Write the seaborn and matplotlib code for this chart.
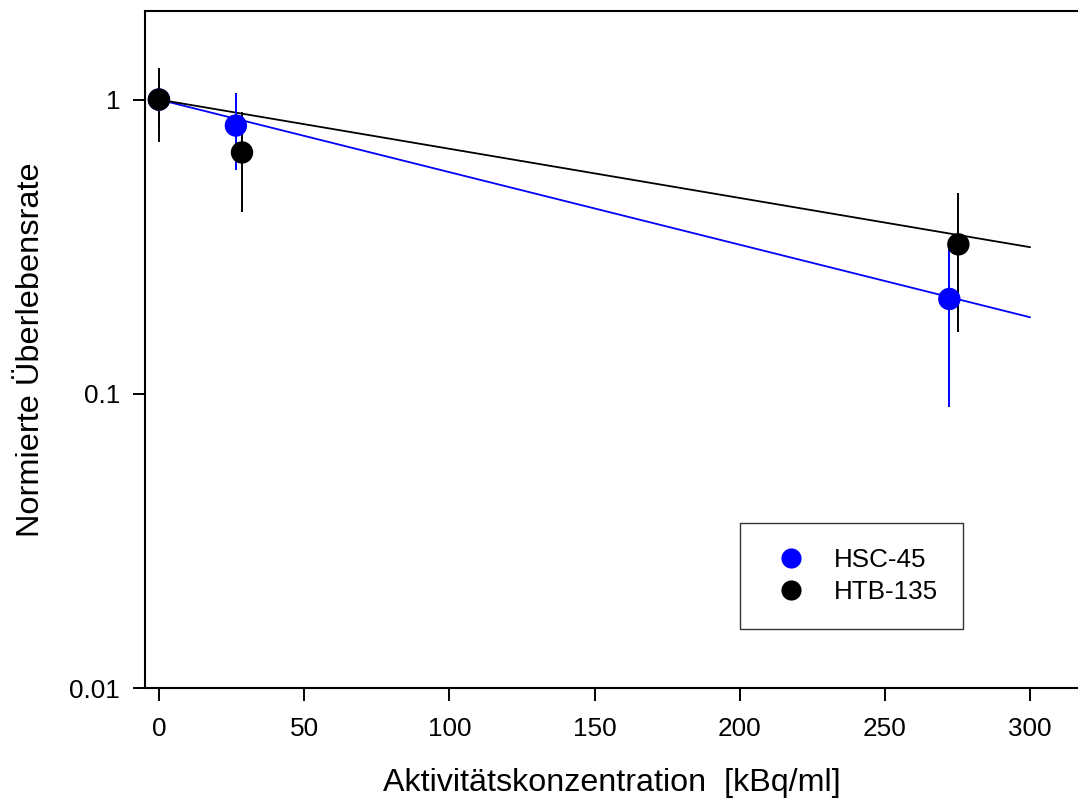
import matplotlib
matplotlib.use("Agg")
import matplotlib.pyplot as plt
import seaborn as sns
import pandas as pd

# Measured survival fractions (mean and error) per cell line
dose_hsc = [0.0, 26.5, 272.2]
surv_hsc = [1.0, 0.816, 0.21]
err_hsc = [0.19, 0.24, 0.12]

dose_htb = [0.0, 28.6, 275.3]
surv_htb = [1.0, 0.661, 0.322]
err_htb = [0.28, 0.245, 0.16]

# Exponential fit curves (straight on log axis), evaluated at range ends
fit_dose = [0.0, 300.0]
fit_hsc = [1.0, 0.182]
fit_htb = [1.0, 0.315]

labels = ["HSC-45", "HTB-135"]
colors = ["#0000ff", "#000000"]

x_ticks = [0, 50, 100, 150, 200, 250, 300]
y_ticks = [0.01, 0.1, 1]
y_ticklabels = ["0.01", "0.1", "1"]

sns.set_theme(style="ticks")
plt.rcParams["font.family"] = ["Liberation Sans", "DejaVu Sans"]
plt.rcParams.update({
    "text.color": "black",
    "axes.labelcolor": "black",
    "xtick.color": "black",
    "ytick.color": "black",
    "axes.edgecolor": "black",
})

points = pd.DataFrame({
    "dose": dose_hsc + dose_htb,
    "surv": surv_hsc + surv_htb,
    "line": [labels[0]] * len(dose_hsc) + [labels[1]] * len(dose_htb),
})
fits = pd.DataFrame({
    "dose": fit_dose + fit_dose,
    "surv": fit_hsc + fit_htb,
    "line": [labels[0]] * 2 + [labels[1]] * 2,
})
palette = dict(zip(labels, colors))

fig = plt.figure(figsize=(10.78, 8.01), dpi=100)
ax = fig.add_axes([145 / 1078, 113 / 801, 1 - 145 / 1078, 677 / 801])

ax.set_yscale("log")

# fit lines
sns.lineplot(data=fits, x="dose", y="surv", hue="line", palette=palette,
             linewidth=1.3, legend=False, ax=ax, zorder=2)

# error bars
ax.errorbar(dose_hsc, surv_hsc, yerr=err_hsc, fmt="none", ecolor=colors[0],
            elinewidth=1.4, capsize=0, zorder=3)
ax.errorbar(dose_htb, surv_htb, yerr=err_htb, fmt="none", ecolor=colors[1],
            elinewidth=1.4, capsize=0, zorder=4)

# data points
sns.scatterplot(data=points, x="dose", y="surv", hue="line", palette=palette,
                s=260, edgecolor="none", ax=ax, zorder=5)

ax.set_xlim(-4.8, 316.5)
ax.set_ylim(0.01, 2.0)
ax.set_xticks(x_ticks)
ax.set_xticklabels([str(t) for t in x_ticks])
ax.set_yticks(y_ticks)
ax.set_yticklabels(y_ticklabels)
ax.yaxis.set_minor_locator(matplotlib.ticker.NullLocator())

ax.tick_params(axis="both", which="major", direction="out", length=9,
               width=1.4, color="black", labelcolor="black", labelsize=18.8,
               pad=12)
ax.tick_params(axis="y", pad=9)

for side in ["left", "bottom", "top"]:
    ax.spines[side].set_linewidth(1.5)
    ax.spines[side].set_color("black")
ax.spines["right"].set_visible(False)

ax.set_xlabel("Aktivitätskonzentration  [kBq/ml]", fontsize=23.2,
              labelpad=19, color="black")
ax.set_ylabel("Normierte Überlebensrate", fontsize=23.4, labelpad=17,
              color="black")

leg = ax.legend(loc="upper left", bbox_to_anchor=(0.638, 0.2437),
                borderaxespad=0, frameon=True, fancybox=False,
                fontsize=18.7, markerscale=0.9, handletextpad=0.65,
                borderpad=0.95, labelspacing=0.32, handlelength=2.0)
leg.get_frame().set_edgecolor("black")
leg.get_frame().set_linewidth(1.0)
for t in leg.get_texts():
    t.set_color("black")

fig.savefig("out.png", dpi=100)
